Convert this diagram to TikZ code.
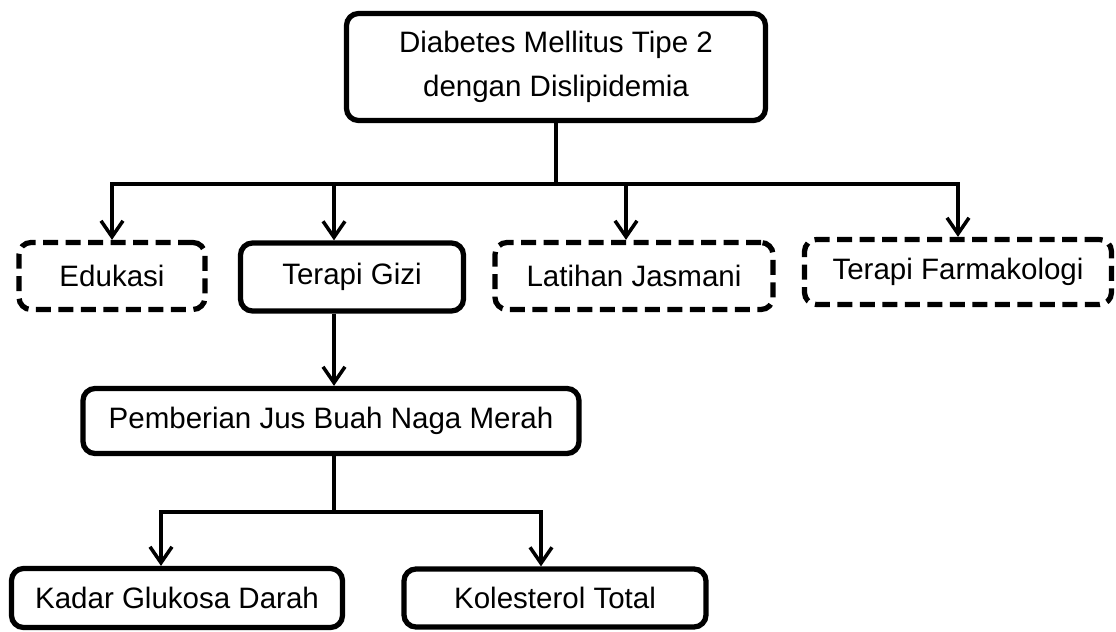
\documentclass[tikz,border=0pt]{standalone}
\usepackage{fontspec}
\setmainfont{Liberation Sans}
\usetikzlibrary{arrows.meta,calc}

\begin{document}
\begin{tikzpicture}[x=0.02cm,y=-0.02cm]
\def\u{0.02cm} % one pixel of the original
\tikzset{
  kotak/.style={draw, line width=3pt, rounded corners=0.24cm, align=center,
                inner sep=0pt, font=\fontsize{16.8}{25}\selectfont},
  putus/.style={kotak, dash pattern=on 0.3cm off 0.15cm},
  garis/.style={line width=2pt},
  panah/.style={garis, -{Straight Barb[length=0.32cm,width=0.44cm,line width=2pt]}}
}
\useasboundingbox (0,0) rectangle (1116,632);

% level 1
\node[kotak, minimum width=419*\u, minimum height=107*\u] (dm) at (556,67)
  {Diabetes Mellitus Tipe 2\\dengan Dislipidemia};

% level 2: the four pillars
\node[putus, minimum width=186*\u, minimum height=67*\u] (edu) at (112,276) {Edukasi};
\node[kotak, minimum width=223*\u, minimum height=68*\u] (tg) at (352,277) {Terapi Gizi};
\node[putus, minimum width=278*\u, minimum height=67*\u] (lat) at (634,276) {Latihan Jasmani};
\node[putus, minimum width=307*\u, minimum height=65*\u] (far) at (958,272) {Terapi Farmakologi};

% level 3
\node[kotak, minimum width=496*\u, minimum height=65*\u] (pjb) at (331,421) {Pemberian Jus Buah Naga Merah};

% level 4
\node[kotak, minimum width=331*\u, minimum height=59*\u] (kgd) at (177,598) {Kadar Glukosa Darah};
\node[kotak, minimum width=302*\u, minimum height=58*\u] (kol) at (555,598) {Kolesterol Total};

% connectors
\coordinate (j1) at (556,184);
\draw[garis] (dm.south) -- (j1);
\draw[panah] (j1) -| (edu.north);
\draw[panah] (j1) -| ([xshift=-18*\u]tg.north);
\draw[panah] (j1) -| ([xshift=-8*\u]lat.north);
\draw[panah] (j1) -| (far.north);

\draw[panah] ([xshift=-18*\u]tg.south) -- ([xshift=-18*\u]tg.south |- pjb.north);

\coordinate (j2) at (334,512);
\draw[garis] (pjb.south -| j2) -- (j2);
\draw[panah] (j2) -| ([xshift=-16*\u]kgd.north);
\draw[panah] (j2) -| ([xshift=-14*\u]kol.north);
\end{tikzpicture}
\end{document}
